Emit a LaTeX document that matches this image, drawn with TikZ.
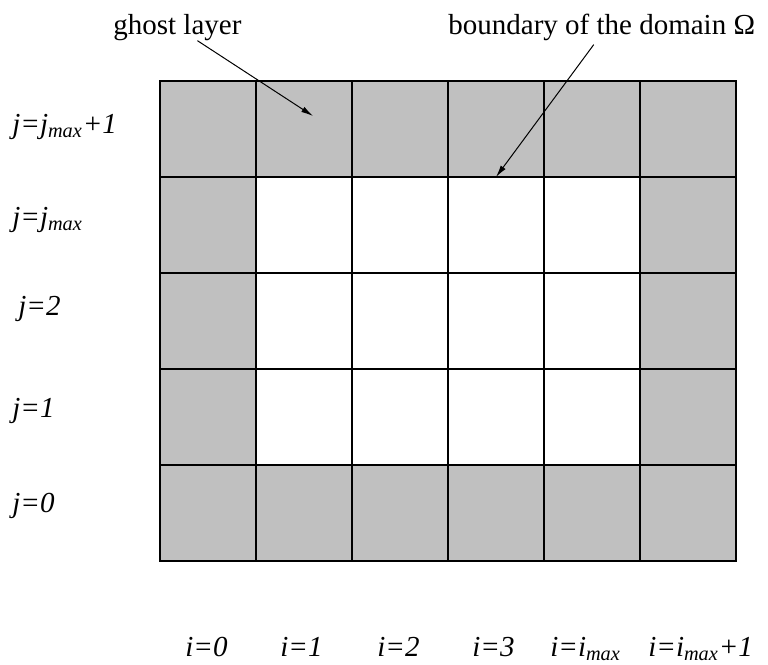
\documentclass[tikz,border=0pt]{standalone}
\usepackage{fontspec}
\setmainfont{Liberation Serif}
\usetikzlibrary{arrows.meta,calc}
\definecolor{ghostgray}{HTML}{C0C0C0}

\begin{document}
\begin{tikzpicture}[
  x=0.5pt, y=-0.5pt,
  font=\fontsize{14.5}{17}\selectfont,
  cell/.style={draw=black, line width=0.6pt, minimum size=48pt, inner sep=0pt, outer sep=0pt},
  ghostcell/.style={cell, fill=ghostgray},
  innercell/.style={cell, fill=white},
  title/.style={anchor=base west, inner sep=0pt},
  lbl/.style={anchor=base west, inner sep=0pt, font=\fontsize{14.5}{17}\selectfont\itshape},
  arrow/.style={-{Latex[length=6pt,width=3pt]}, line width=0.5pt, draw=black}
]
  \useasboundingbox (0,0) rectangle (768,665);

  \foreach \i in {0,...,5}
    \foreach \j in {0,...,4} {
      \pgfmathtruncatemacro{\isghost}{(\i==0)||(\i==5)||(\j==0)||(\j==4)}
      \ifnum\isghost=1
        \node[ghostcell] (c-\i-\j) at ({208+96*\i},{513-96*\j}) {};
      \else
        \node[innercell] (c-\i-\j) at ({208+96*\i},{513-96*\j}) {};
      \fi
    }

  \node[lbl] (j4) at (12,133) {j=j\textsubscript{max}+1};
  \node[lbl] (j3) at (12,226) {j=j\textsubscript{max}};
  \node[lbl] (j2) at (18,315) {j=2};
  \node[lbl] (j1) at (12,417) {j=1};
  \node[lbl] (j0) at (12,512) {j=0};

  \node[lbl] (i0) at (185,656) {i=0};
  \node[lbl] (i1) at (280,656) {i=1};
  \node[lbl] (i2) at (377,656) {i=2};
  \node[lbl] (i3) at (472,656) {i=3};
  \node[lbl] (i4) at (550,656) {i=i\textsubscript{max}};
  \node[lbl] (i5) at (648,656) {i=i\textsubscript{max}+1};

  \node[title] (ghostlbl) at (113,34) {ghost layer};
  \node[title] (bndlbl) at (448,34) {boundary of the domain Ω};

  \draw[arrow] ($(ghostlbl.south)+(20,0)$) -- ($(c-1-4.center)+(9,-13)$);
  \draw[arrow] ($(bndlbl.south)+(-8,4)$) -- (c-3-3.north);
\end{tikzpicture}
\end{document}
